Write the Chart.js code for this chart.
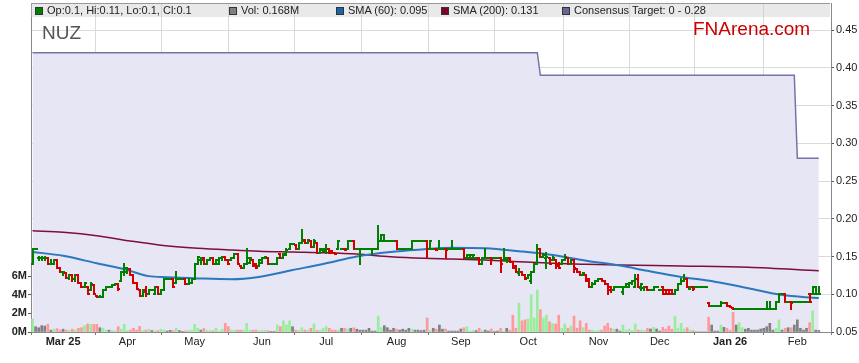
<!DOCTYPE html>
<html>
<head>
<meta charset="utf-8">
<title>NUZ</title>
<script src="https://cdn.jsdelivr.net/npm/chart.js@4.4.1/dist/chart.umd.min.js"></script>
<style>
  body { margin: 0; background: #fff; font-family: "Liberation Sans", Arial, sans-serif; }
  #wrap { position: relative; width: 859px; height: 363px; }
  #legend { position: absolute; left: 31px; top: 3px; width: 799px; height: 13px; background: rgba(200, 200, 200, 0.4); border-top: 1px solid #999; font-size: 11px; color: #222; }
  .item { position: absolute; top: 0; line-height: 13px; white-space: nowrap; }
  .sw { position: absolute; left: -12px; top: 3px; width: 6px; height: 6px; border: 1px solid #333; }
  #code { position: absolute; left: 42px; top: 22px; font-size: 19px; color: #555; }
  #brand { position: absolute; left: 693px; top: 18px; font-size: 19px; color: #cc0000; }
</style>
</head>
<body>
<div id="wrap">
  <canvas id="chart" width="859" height="363"></canvas>
  <div id="legend"></div>
  <div id="code">NUZ</div>
  <div id="brand">FNArena.com</div>
</div>
<script>
// daily OHLC (weekdays, mid Feb 2025 -> Feb 2026)
const opens = [
  .14,.16,.148,.148,.148,.148,.14,.14,.145,.135,
  .13,.128,.122,.125,.12,.125,.115,.11,.11,.105,
  .112,.098,.097,.097,.105,.11,.11,.112,.114,.117,
  .13,.13,.133,.125,.115,.105,.098,.105,.10,.105,
  .10,.11,.10,.105,.12,.12,.12,.115,.12,.12,
  .12,.113,.115,.12,.14,.145,.148,.14,.145,.148,
  .14,.14,.148,.15,.145,.145,.148,.153,.138,.135,
  .14,.142,.145,.14,.138,.142,.148,.148,.14,.14,
  .14,.153,.148,.152,.16,.167,.165,.16,.168,.172,
  .168,.17,.162,.168,.155,.158,.157,.16,.157,.155,
  .16,.16,.16,.16,.17,.17,.16,.16,.16,.16,
  .16,.16,.16,.16,.17,.17,.17,.17,.17,.17,
  .16,.16,.16,.16,.16,.17,.17,.17,.17,.17,
  .16,.16,.16,.16,.16,.16,.16,.16,.16,.16,
  .16,.16,.148,.148,.148,.148,.148,.14,.148,.148,
  .148,.148,.148,.148,.145,.145,.148,.143,.137,.128,
  .13,.125,.122,.117,.13,.14,.16,.15,.148,.148,
  .145,.145,.14,.14,.145,.148,.14,.145,.133,.13,
  .125,.125,.12,.11,.113,.117,.12,.118,.113,.11,
  .105,.11,.11,.103,.11,.11,.115,.11,.12,.108,
  .108,.11,.105,.105,.11,.105,.11,.105,.105,.105,
  .10,.105,.113,.117,.12,.107,.11,.11,.11,.11,
  .11,.088,.085,.085,.085,.085,.088,.088,.085,.082,
  .08,.08,.08,.08,.08,.08,.08,.08,.08,.08,
  .08,.08,.08,.08,.09,.10,.10,.09,.09,.09,
  .09,.09,.09,.09,.10,.10,.10,.10
];
const highs = [
  .16,.16,.15,.15,.15,.148,.145,.145,.145,.135,
  .13,.128,.125,.125,.125,.125,.115,.115,.11,.115,
  .112,.098,.098,.105,.11,.11,.112,.114,.114,.13,
  .14,.135,.133,.125,.115,.105,.105,.11,.105,.105,
  .11,.11,.105,.12,.12,.12,.12,.13,.12,.12,
  .12,.12,.12,.14,.15,.148,.148,.145,.148,.148,
  .145,.148,.15,.15,.145,.148,.153,.153,.138,.14,
  .16,.148,.145,.14,.145,.148,.15,.148,.14,.14,
  .148,.153,.153,.16,.167,.167,.165,.168,.185,.172,
  .172,.17,.172,.168,.16,.16,.165,.16,.157,.155,
  .17,.16,.16,.17,.17,.17,.16,.16,.16,.16,
  .16,.16,.16,.19,.178,.178,.17,.17,.17,.17,
  .16,.16,.16,.16,.17,.17,.17,.17,.17,.17,
  .17,.16,.16,.17,.16,.16,.16,.17,.16,.16,
  .16,.16,.152,.152,.152,.148,.148,.148,.16,.148,
  .148,.148,.148,.148,.16,.148,.148,.143,.137,.133,
  .13,.125,.125,.13,.14,.165,.16,.153,.155,.148,
  .15,.145,.142,.145,.152,.148,.145,.145,.133,.13,
  .128,.125,.12,.115,.117,.12,.12,.118,.113,.11,
  .11,.11,.11,.11,.113,.115,.117,.125,.125,.113,
  .11,.11,.105,.11,.11,.105,.11,.105,.105,.105,
  .105,.113,.12,.125,.12,.11,.11,.11,.11,.11,
  .11,.088,.085,.085,.085,.09,.088,.088,.085,.082,
  .081,.081,.081,.08,.08,.08,.08,.08,.08,.08,
  .09,.09,.08,.09,.10,.10,.10,.09,.09,.09,
  .09,.09,.09,.09,.10,.11,.11,.11
];
const lows = [
  .14,.16,.145,.145,.145,.14,.14,.14,.135,.13,
  .125,.122,.12,.118,.118,.115,.11,.11,.10,.105,
  .10,.097,.096,.097,.105,.11,.11,.112,.105,.117,
  .125,.128,.125,.115,.107,.098,.098,.098,.10,.105,
  .10,.10,.10,.105,.12,.12,.11,.115,.12,.12,
  .113,.113,.115,.12,.14,.14,.14,.14,.145,.14,
  .14,.14,.145,.145,.14,.145,.148,.14,.135,.135,
  .14,.142,.137,.135,.138,.142,.148,.14,.14,.14,
  .14,.148,.148,.152,.16,.167,.16,.16,.168,.168,
  .168,.162,.162,.155,.155,.157,.155,.155,.155,.153,
  .16,.16,.158,.16,.17,.16,.16,.14,.16,.16,
  .16,.153,.16,.16,.17,.17,.17,.17,.17,.16,
  .16,.16,.16,.16,.16,.17,.17,.17,.17,.148,
  .16,.16,.158,.16,.16,.148,.16,.16,.16,.16,
  .16,.148,.148,.148,.148,.148,.14,.14,.148,.148,
  .14,.148,.148,.13,.145,.143,.143,.135,.13,.125,
  .125,.12,.122,.115,.13,.14,.15,.15,.135,.14,
  .145,.135,.135,.14,.145,.14,.14,.13,.13,.125,
  .125,.117,.11,.11,.113,.117,.118,.113,.10,.103,
  .105,.11,.11,.10,.11,.11,.113,.11,.11,.105,
  .105,.105,.105,.105,.11,.105,.10,.10,.10,.10,
  .10,.105,.113,.117,.11,.107,.105,.11,.11,.11,
  .11,.085,.085,.085,.085,.085,.088,.085,.083,.08,
  .08,.08,.08,.08,.08,.08,.08,.08,.08,.08,
  .08,.08,.08,.08,.09,.10,.09,.09,.08,.09,
  .09,.09,.09,.09,.09,.10,.10,.10
];
const closes = [
  .16,.16,.148,.148,.148,.14,.14,.145,.135,.13,
  .13,.122,.125,.12,.125,.115,.11,.115,.10,.113,
  .10,.097,.097,.105,.11,.11,.112,.114,.107,.13,
  .135,.133,.125,.115,.107,.098,.103,.10,.105,.105,
  .11,.10,.105,.12,.12,.12,.11,.12,.12,.12,
  .113,.115,.12,.14,.15,.145,.14,.145,.148,.14,
  .145,.148,.15,.145,.14,.148,.153,.14,.135,.14,
  .148,.148,.137,.135,.145,.148,.15,.14,.14,.14,
  .148,.148,.153,.158,.167,.167,.16,.168,.17,.168,
  .172,.162,.17,.155,.16,.16,.16,.155,.155,.153,
  .17,.16,.158,.17,.17,.16,.16,.16,.16,.16,
  .16,.16,.16,.17,.178,.17,.17,.17,.17,.16,
  .16,.16,.16,.16,.17,.17,.17,.17,.17,.16,
  .17,.16,.158,.16,.16,.158,.16,.16,.16,.16,
  .16,.148,.152,.152,.152,.148,.14,.148,.148,.148,
  .145,.148,.148,.14,.148,.145,.143,.135,.13,.13,
  .125,.12,.125,.13,.14,.16,.15,.152,.15,.14,
  .148,.138,.135,.145,.15,.14,.145,.135,.13,.125,
  .128,.118,.11,.113,.117,.12,.118,.113,.105,.105,
  .11,.11,.11,.11,.113,.115,.117,.12,.11,.113,
  .11,.105,.105,.11,.11,.105,.10,.10,.10,.10,
  .105,.113,.117,.12,.11,.11,.107,.11,.11,.11,
  .11,.085,.085,.085,.085,.088,.088,.085,.083,.08,
  .08,.081,.081,.08,.08,.08,.08,.08,.08,.08,
  .08,.08,.08,.09,.10,.10,.09,.09,.088,.09,
  .09,.09,.09,.09,.09,.11,.10,.10
];
// volume in millions
const volumes = [
  1.4,0.57,0.46,0.68,0.64,0.82,0.2,0.3,0.36,0.2,
  0.3,0.2,0.2,0.3,0.2,0.4,0.46,0.68,0.86,0.82,
  0.82,0.82,0.46,0.4,0.2,0.2,0.15,0.1,0.57,0.3,
  0.82,0.15,0.2,0.4,0.2,0.6,0.15,0.2,0.3,0.15,
  0.12,0.15,0.3,0.2,0.1,0.18,0.15,0.4,0.15,0.05,
  0.12,0.15,0.2,0.82,0.4,0.2,0.4,0.2,0.15,0.12,
  0.4,0.1,0.3,0.93,0.57,0.2,0.2,0.2,0.2,0.2,
  0.93,0.2,0.2,0.2,0.15,0.15,0.2,0.15,0.05,0.05,
  0.75,0.57,1.2,0.75,1.2,0.57,0.2,0.15,0.46,0.2,
  0.2,0.4,0.86,0.15,0.2,0.4,0.57,0.4,0.2,0.2,
  0.2,0.4,0.4,0.32,0.4,0.46,0.3,0.2,0.2,0.2,
  0.4,0.1,0.1,1.7,0.46,0.68,0.46,0.2,0.4,0.3,
  0.2,0.3,0.2,0.4,0.3,0.2,0.2,0.15,0.2,1.5,
  0.2,0.4,0.3,0.75,0.3,0.32,0.1,0.1,0.1,0.1,
  0.32,0.46,0.57,0.1,0.15,0.15,0.4,0.15,0.2,0.1,
  0.32,0.05,0.1,0.4,0.1,0.4,0.2,1.8,0.4,3.1,
  1.2,1.3,1.4,4.0,1.5,4.5,2.4,1.5,1.8,1.1,
  0.9,0.86,1.8,0.4,0.86,0.4,0.64,1.7,0.4,1.2,
  0.46,0.93,0.2,0.2,0.1,0.2,0.2,0.64,0.93,0.4,
  0.3,0.3,0.1,0.75,0.2,0.3,0.15,0.86,0.2,0.2,
  0.15,0.4,0.32,0.5,0.32,0.1,0.5,0.3,0.64,0.3,
  1.7,0.4,0.93,0.3,0.46,0.2,0.15,0,0,0,
  0,1.6,0.75,0.1,0.1,0.75,0.5,0.4,0.2,2.1,
  0.75,1.0,0.46,0.3,0.4,0.2,0.2,0.2,0.32,0.4,
  0.57,0.93,0.2,0.4,1.3,0.2,0.4,0.46,0.46,0.75,
  1.3,0.4,0.2,0.4,1.0,2.25,0.2,0.168
];

// moving averages at these day indexes
const sma60Idx = [0, 10, 21, 31, 38, 44, 54, 65, 74, 85, 96, 106, 117, 128, 137, 148, 159, 170, 181, 192, 201, 212, 223, 234, 245, 255, 257];
const sma60Val = [0.156, 0.151, 0.141, 0.132, 0.124, 0.1225, 0.121, 0.120, 0.123, 0.132, 0.141, 0.150, 0.156, 0.1595, 0.1617, 0.161, 0.157, 0.152, 0.1445, 0.138, 0.131, 0.123, 0.1167, 0.108, 0.099, 0.0955, 0.095];
const sma200Idx = [0, 10, 21, 32, 42, 54, 65, 74, 85, 96, 106, 117, 128, 137, 148, 159, 170, 181, 192, 212, 234, 257];
const sma200Val = [0.184, 0.182, 0.1776, 0.1705, 0.165, 0.161, 0.1586, 0.157, 0.156, 0.155, 0.1533, 0.1497, 0.1476, 0.1467, 0.1454, 0.1431, 0.141, 0.1397, 0.1387, 0.1374, 0.1357, 0.131];

// consensus target steps
const targetIdx = [0, 165, 166, 249, 250, 257];
const targetVal = [0.42, 0.42, 0.39, 0.39, 0.28, 0.28];
const targetLow = 0;

// axis ticks
const monthIdx = [10, 31, 53, 75, 96, 119, 140, 162, 185, 205, 228, 250];
const monthLabels = ['Mar 25', 'Apr', 'May', 'Jun', 'Jul', 'Aug', 'Sep', 'Oct', 'Nov', 'Dec', 'Jan 26', 'Feb'];
const priceTicks = [0.05, 0.10, 0.15, 0.20, 0.25, 0.30, 0.35, 0.40, 0.45];
const volTicks = [0, 2, 4, 6];

const FONT = '"Liberation Sans", Arial, sans-serif';
const UP = '#008000', DOWN = '#d40000';

const last = closes.length - 1;

// legend strip
const legendItems = [
  { left: 4,   color: UP,        text: `Op:${opens[last]}, Hi:${highs[last]}, Lo:${lows[last]}, Cl:${closes[last]}` },
  { left: 198, color: '#808080', text: `Vol: ${volumes[last]}M` },
  { left: 305, color: '#1a64a8', text: `SMA (60): ${sma60Val[sma60Val.length - 1].toFixed(3)}` },
  { left: 410, color: '#800030', text: `SMA (200): ${sma200Val[sma200Val.length - 1].toFixed(3)}` },
  { left: 531, color: '#66669a', text: `Consensus Target: ${targetLow} - ${targetVal[targetVal.length - 1]}` }
];
const legendEl = document.getElementById('legend');
legendItems.forEach(it => {
  const d = document.createElement('div');
  d.className = 'item';
  d.style.left = (it.left + 12) + 'px';
  d.innerHTML = `<span class="sw" style="background:${it.color}"></span>${it.text}`;
  legendEl.appendChild(d);
});

const volColors = volumes.map((v, i) => closes[i] > opens[i] ? '#99ee99' : closes[i] < opens[i] ? '#ff9999' : '#808080');

// OHLC bars drawn on top of the datasets, using the chart's scales
const ohlcPlugin = {
  id: 'ohlc',
  afterDatasetsDraw(chart) {
    const { ctx } = chart;
    const x = chart.scales.x, y = chart.scales.y;
    ctx.save();
    closes.forEach((c, i) => {
      const px = Math.round(x.getPixelForValue(i));
      const yo = Math.round(y.getPixelForValue(opens[i]));
      const yh = Math.round(y.getPixelForValue(highs[i]));
      const yl = Math.round(y.getPixelForValue(lows[i]));
      const yc = Math.round(y.getPixelForValue(c));
      ctx.fillStyle = c >= opens[i] ? UP : DOWN;
      if (yl > yh) ctx.fillRect(px - 1, yh - 1, 2, yl - yh + 2);
      ctx.fillRect(px - 2, yo - 1, 2, 2);
      ctx.fillRect(px, yc - 1, 2, 2);
    });
    ctx.restore();
  }
};

const pts = (xs, ys) => xs.map((v, k) => ({ x: v, y: ys[k] }));

// vertical scales: no extra padding for their end labels
const noPad = s => { s.paddingTop = 0; s.paddingBottom = 0; };

new Chart(document.getElementById('chart'), {
  type: 'bar',
  data: {
    datasets: [
      {
        type: 'line', label: 'Consensus Target', data: pts(targetIdx, targetVal),
        borderColor: '#7474aa', borderWidth: 1.5, backgroundColor: '#e6e6f5',
        fill: 'start', pointRadius: 0, tension: 0, yAxisID: 'y', order: 10
      },
      {
        type: 'bar', label: 'Vol', data: volumes.map((v, i) => ({ x: i, y: v })),
        backgroundColor: volColors, barThickness: 2, yAxisID: 'yVol', order: 8
      },
      {
        type: 'line', label: 'SMA (200)', data: pts(sma200Idx, sma200Val),
        borderColor: '#7d0f38', borderWidth: 1.5, pointRadius: 0,
        cubicInterpolationMode: 'monotone', yAxisID: 'y', order: 6
      },
      {
        type: 'line', label: 'SMA (60)', data: pts(sma60Idx, sma60Val),
        borderColor: '#2a78bd', borderWidth: 2, pointRadius: 0,
        cubicInterpolationMode: 'monotone', yAxisID: 'y', order: 4
      }
    ]
  },
  options: {
    responsive: false,
    animation: false,
    layout: { autoPadding: false, padding: { top: 3, left: 0, right: 0, bottom: 0 } },
    plugins: { legend: { display: false }, tooltip: { enabled: false } },
    scales: {
      x: {
        type: 'linear', min: -0.5, max: 261, offset: false,
        afterBuildTicks: s => { s.ticks = monthIdx.map(v => ({ value: v })); },
        afterFit: s => { s.height = 31; s.paddingLeft = 0; s.paddingRight = 0; },
        ticks: {
          autoSkip: false, maxRotation: 0, padding: 0, color: '#222',
          font: c => ({ family: FONT, size: 11, weight: (monthLabels[c.index] || '').includes(' ') ? 'bold' : 'normal' }),
          callback: (v, i) => monthLabels[i]
        },
        grid: { color: '#dadada', tickColor: '#777', tickLength: 3 },
        border: { color: '#888' }
      },
      y: {
        position: 'right', min: 0.05, max: 0.4858,
        afterBuildTicks: s => { s.ticks = priceTicks.map(v => ({ value: v })); },
        afterFit: s => { s.width = 28; noPad(s); },
        ticks: { padding: 2, color: '#222', font: { family: FONT, size: 11 }, callback: v => v.toFixed(2) },
        grid: { color: '#dadada', tickColor: '#555', tickLength: 3 },
        border: { color: '#888' }
      },
      yVol: {
        position: 'left', min: 0, max: 35.26,
        afterBuildTicks: s => { s.ticks = volTicks.map(v => ({ value: v })); },
        afterFit: s => { s.width = 31; noPad(s); },
        ticks: { padding: 1, color: '#222', font: { family: FONT, size: 11, weight: 'bold' }, callback: v => v + 'M' },
        grid: { drawOnChartArea: false, tickColor: '#555', tickLength: 3 },
        border: { color: '#888' }
      }
    }
  },
  plugins: [ohlcPlugin]
});
</script>
</body>
</html>
